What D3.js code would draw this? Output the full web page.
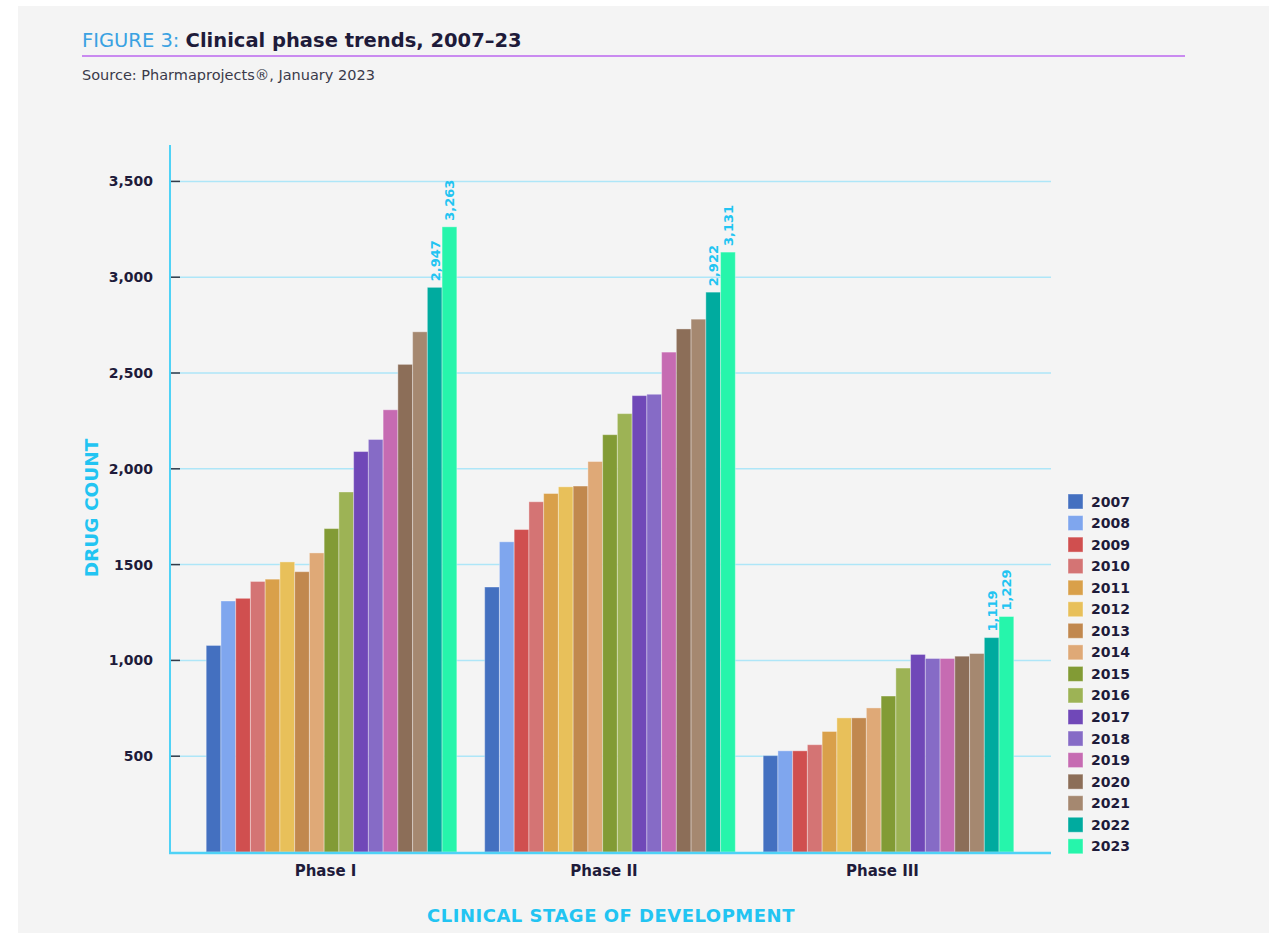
<!DOCTYPE html>
<html>
<head>
<meta charset="utf-8">
<script src="https://cdn.jsdelivr.net/npm/d3@7"></script>
<style>
  html, body { margin: 0; padding: 0; background: #ffffff; }
  svg { display: block; }
</style>
</head>
<body>
<div id="chart"></div>
<script>
// ---- Data ----
const phases = ["Phase I", "Phase II", "Phase III"];
const years = ["2007","2008","2009","2010","2011","2012","2013","2014","2015","2016","2017","2018","2019","2020","2021","2022","2023"];
const phaseI   = [1078, 1310, 1324, 1412, 1424, 1514, 1463, 1561, 1688, 1879, 2090, 2153, 2308, 2545, 2715, 2947, 3263];
const phaseII  = [1383, 1619, 1683, 1828, 1871, 1906, 1910, 2038, 2178, 2288, 2382, 2389, 2609, 2730, 2781, 2922, 3131];
const phaseIII = [503, 528, 528, 560, 629, 700, 700, 752, 814, 960, 1031, 1010, 1010, 1022, 1036, 1119, 1229];
const seriesByPhase = [phaseI, phaseII, phaseIII];
const labeledYears = ["2022", "2023"];
const yTicks = [500, 1000, 1500, 2000, 2500, 3000, 3500];
const yTickLabels = ["500", "1,000", "1500", "2,000", "2,500", "3,000", "3,500"];
const colors = ["#4470c0","#7fa6ee","#d04f4f","#d47474","#d9a04a","#e8c05a","#c1884e","#dfa977",
                "#829b35","#9db355","#7048b8","#866bc6","#c66bb2","#8c6e58","#a58870","#00ab9f","#26f5ab"];

(function () {
const W = 1269, H = 933;
const navy = "#1e1b3a";
const cyan = "#22c4f2";
const font = "'DejaVu Sans', 'Open Sans', sans-serif";

const svg = d3.select("#chart").append("svg").attr("width", W).attr("height", H);

// Background panel
svg.append("rect").attr("x", 18).attr("y", 6).attr("width", W - 18).attr("height", H - 6).attr("fill", "#f4f4f4");

// Title
const title = svg.append("text").attr("x", 82).attr("y", 47).attr("font-family", font).attr("font-size", 19.5);
title.append("tspan").attr("fill", "#3aa2e2").attr("font-weight", 400).text("FIGURE 3: ");
title.append("tspan").attr("fill", navy).attr("font-weight", 700).text("Clinical phase trends, 2007–23");

svg.append("line").attr("x1", 82).attr("x2", 1185).attr("y1", 56).attr("y2", 56)
  .attr("stroke", "#c98af0").attr("stroke-width", 2);

svg.append("text").attr("x", 82).attr("y", 80).attr("font-family", font).attr("font-size", 14.5)
  .attr("fill", "#3a3a4a").text("Source: Pharmaprojects®, January 2023");

// Scales
const pLeft = 170, pRight = 1051, pTop = 145, pBottom = 852;
const y = d3.scaleLinear().domain([0, 3690]).range([pBottom, pTop]);
const x0 = d3.scaleBand().domain(phases).range([pLeft, 1050]).paddingInner(0.1).paddingOuter(0.13);
const x1 = d3.scaleBand().domain(years).range([0, x0.bandwidth()]).padding(0);
const color = d3.scaleOrdinal().domain(years).range(colors);

// Gridlines
svg.append("g").selectAll("line").data(yTicks).join("line")
  .attr("x1", pLeft).attr("x2", pRight)
  .attr("y1", d => y(d)).attr("y2", d => y(d))
  .attr("stroke", "#aee6f8").attr("stroke-width", 1.5);

// Y axis
const yAxis = d3.axisLeft(y).tickValues(yTicks).tickFormat((d, i) => yTickLabels[i]).tickSize(0).tickPadding(17);
const gy = svg.append("g").attr("transform", `translate(${pLeft},0)`).call(yAxis);
gy.select(".domain").remove();
gy.selectAll("text").attr("font-family", font).attr("font-size", 14).attr("font-weight", 700).attr("fill", navy);
// dark tick stubs inside plot
svg.append("g").selectAll("line").data(yTicks).join("line")
  .attr("x1", pLeft).attr("x2", pLeft + 10)
  .attr("y1", d => y(d)).attr("y2", d => y(d))
  .attr("stroke", "#333a48").attr("stroke-width", 1.5);

// Bars
const groups = svg.append("g").selectAll("g").data(phases).join("g")
  .attr("transform", d => `translate(${x0(d)},0)`);
groups.selectAll("rect")
  .data((p, pi) => years.map((yr, i) => ({ yr, v: seriesByPhase[pi][i] })))
  .join("rect")
  .attr("x", d => x1(d.yr))
  .attr("y", d => y(d.v))
  .attr("width", x1.bandwidth())
  .attr("height", d => y(0) - y(d.v))
  .attr("fill", d => color(d.yr))
  .attr("stroke", "rgba(255,255,255,0.35)")
  .attr("stroke-width", 1);

// Value labels
groups.selectAll("text.val")
  .data((p, pi) => years.map((yr, i) => ({ yr, v: seriesByPhase[pi][i] })).filter(d => labeledYears.includes(d.yr)))
  .join("text")
  .attr("class", "val")
  .attr("transform", d => `translate(${x1(d.yr) + x1.bandwidth() / 2 + 5},${y(d.v) - 6}) rotate(-90)`)
  .attr("font-family", font).attr("font-size", 13).attr("font-weight", 700)
  .attr("fill", cyan)
  .text(d => d3.format(",")(d.v));

// Axis lines
svg.append("line").attr("x1", pLeft).attr("x2", pLeft).attr("y1", pTop).attr("y2", pBottom + 1)
  .attr("stroke", "#4fd2f6").attr("stroke-width", 2);
svg.append("line").attr("x1", pLeft - 1).attr("x2", pRight).attr("y1", pBottom + 1).attr("y2", pBottom + 1)
  .attr("stroke", "#4fd2f6").attr("stroke-width", 2.5);

// X axis labels
svg.append("g").selectAll("text").data(phases).join("text")
  .attr("x", d => x0(d) + x0.bandwidth() / 2 - 6)
  .attr("y", 876)
  .attr("text-anchor", "middle")
  .attr("font-family", font).attr("font-size", 15).attr("font-weight", 700).attr("fill", navy)
  .text(d => d);

// Axis titles
svg.append("text").attr("x", 611).attr("y", 922).attr("text-anchor", "middle")
  .attr("font-family", font).attr("font-size", 18).attr("font-weight", 700).attr("fill", cyan)
  .attr("letter-spacing", 0.5)
  .text("CLINICAL STAGE OF DEVELOPMENT");
svg.append("text").attr("transform", "translate(98,508) rotate(-90)").attr("text-anchor", "middle")
  .attr("font-family", font).attr("font-size", 18.5).attr("font-weight", 700).attr("fill", cyan)
  .text("DRUG COUNT");

// Legend
const leg = svg.append("g").selectAll("g").data(years).join("g")
  .attr("transform", (d, i) => `translate(1068,${494 + i * 21.55})`);
leg.append("rect").attr("width", 15).attr("height", 15).attr("fill", d => color(d))
  .attr("stroke", "rgba(255,255,255,0.4)").attr("stroke-width", 1);
leg.append("text").attr("x", 23).attr("y", 7.5).attr("dominant-baseline", "central")
  .attr("font-family", font).attr("font-size", 14).attr("font-weight", 700).attr("fill", navy)
  .text(d => d);
})();
</script>
</body>
</html>
